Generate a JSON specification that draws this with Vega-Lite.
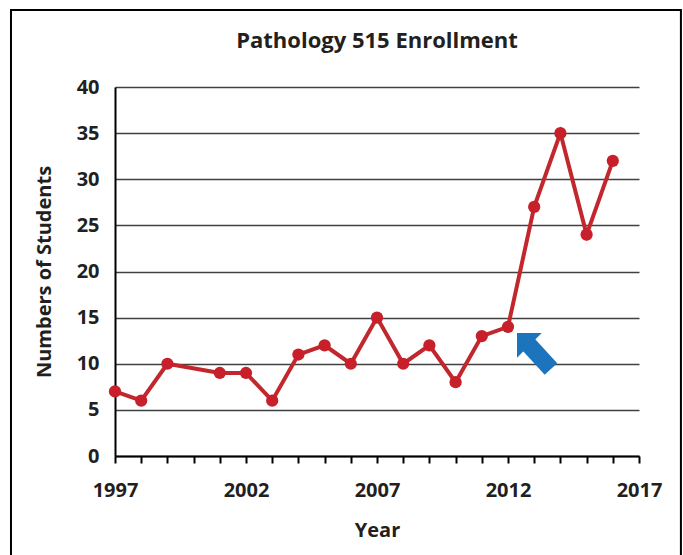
{
  "$schema": "https://vega.github.io/schema/vega-lite/v6.json",
  "width": 524,
  "height": 369,
  "autosize": {"type": "none"},
  "padding": {"left": 115, "top": 87, "right": 44, "bottom": 99},
  "background": "white",
  "config": {
    "view": {"stroke": null},
    "font": "Open Sans",
    "title": {"font": "Open Sans"}
  },
  "title": {
    "text": "Pathology 515 Enrollment",
    "fontSize": 22,
    "fontWeight": "bold",
    "color": "#231f20",
    "anchor": "middle",
    "frame": "group",
    "baseline": "alphabetic",
    "offset": -61
  },
  "datasets": {
    "enroll": [
      {"year": 1997, "value": 7},
      {"year": 1998, "value": 6},
      {"year": 1999, "value": 10},
      {"year": 2001, "value": 9},
      {"year": 2002, "value": 9},
      {"year": 2003, "value": 6},
      {"year": 2004, "value": 11},
      {"year": 2005, "value": 12},
      {"year": 2006, "value": 10},
      {"year": 2007, "value": 15},
      {"year": 2008, "value": 10},
      {"year": 2009, "value": 12},
      {"year": 2010, "value": 8},
      {"year": 2011, "value": 13},
      {"year": 2012, "value": 14},
      {"year": 2013, "value": 27},
      {"year": 2014, "value": 35},
      {"year": 2015, "value": 24},
      {"year": 2016, "value": 32}
    ],
    "frame": [
      {"year": 1993.03, "value": 48.35, "year2": 2018.6, "value2": -12.36}
    ],
    "arrowShaft": [
      {"year": 2012.73, "value": 12.25, "year2": 2013.64, "value2": 9.43}
    ],
    "arrowHead": [
      {"year": 2012.58, "value": 12.66}
    ]
  },
  "encoding": {
    "x": {
      "field": "year",
      "type": "quantitative",
      "scale": {"domain": [1997, 2017], "nice": false, "zero": false},
      "axis": {
        "title": "Year",
        "values": [1997, 1998, 1999, 2000, 2001, 2002, 2003, 2004, 2005, 2006, 2007, 2008, 2009, 2010, 2011, 2012, 2013, 2014, 2015, 2016, 2017],
        "format": "d",
        "labelExpr": "(datum.value - 1997) % 5 == 0 ? datum.label : ''",
        "labelOverlap": false,
        "labelFlush": false,
        "grid": false,
        "domainColor": "#000000",
        "domainWidth": 2,
        "tickColor": "#000000",
        "tickWidth": 2,
        "tickSize": 7,
        "labelFontSize": 20,
        "labelFontWeight": "bold",
        "labelColor": "#231f20",
        "labelPadding": 17,
        "titleFontSize": 20,
        "titleFontWeight": "bold",
        "titleColor": "#231f20",
        "titlePadding": 20
      }
    },
    "y": {
      "field": "value",
      "type": "quantitative",
      "scale": {"domain": [0, 40], "nice": false},
      "axis": {
        "title": "Numbers of Students",
        "values": [0, 5, 10, 15, 20, 25, 30, 35, 40],
        "grid": true,
        "gridColor": "#404040",
        "gridWidth": 1.6,
        "ticks": false,
        "tickSize": 0,
        "domainColor": "#000000",
        "domainWidth": 2,
        "labelFontSize": 20,
        "labelFontWeight": "bold",
        "labelColor": "#231f20",
        "labelPadding": 16,
        "titleFontSize": 20,
        "titleFontWeight": "bold",
        "titleColor": "#231f20",
        "titlePadding": 22
      }
    }
  },
  "layer": [
    {
      "data": {"name": "frame"},
      "mark": {"type": "rect", "fillOpacity": 0, "stroke": "#000000", "strokeWidth": 2},
      "encoding": {
        "x2": {"field": "year2"},
        "y2": {"field": "value2"}
      }
    },
    {
      "data": {"name": "enroll"},
      "mark": {"type": "line", "color": "#c1272d", "strokeWidth": 4},
      "encoding": {}
    },
    {
      "data": {"name": "enroll"},
      "mark": {"type": "point", "filled": true, "color": "#c8202a", "opacity": 1, "size": 150},
      "encoding": {}
    },
    {
      "data": {"name": "arrowShaft"},
      "mark": {"type": "rule", "color": "#1c75bc", "strokeWidth": 17, "strokeCap": "butt"},
      "encoding": {
        "x2": {"field": "year2"},
        "y2": {"field": "value2"}
      }
    },
    {
      "data": {"name": "arrowHead"},
      "mark": {"type": "point", "shape": "M0,-0.5L1,0.5L-1,0.5Z", "filled": true, "color": "#1c75bc", "opacity": 1, "size": 1225, "angle": 315},
      "encoding": {}
    }
  ]
}
